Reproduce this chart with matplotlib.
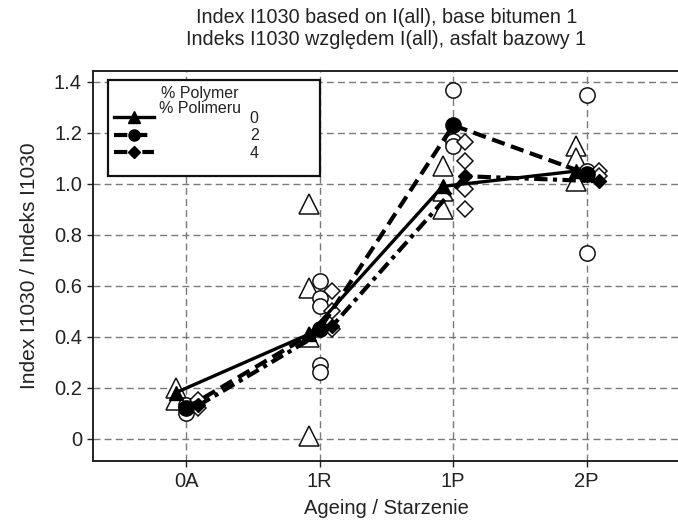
import matplotlib
matplotlib.use("Agg")
import matplotlib.pyplot as plt
from matplotlib.lines import Line2D
from matplotlib.patches import Rectangle

plt.rcParams['font.family'] = ['Liberation Sans', 'DejaVu Sans']

# ---------------- data ----------------
stages = ["0A", "1R", "1P", "2P"]
polymer_levels = ["0", "2", "4"]
legend_title = "% Polymer\n% Polimeru"

# mean values (lines with filled markers)
mean_p0 = [0.18, 0.41, 0.99, 1.05]
mean_p2 = [0.12, 0.43, 1.23, 1.04]
mean_p4 = [0.13, 0.44, 1.03, 1.01]

# individual measurements (hollow markers), one list per stage
ind_p0 = [[0.20, 0.15], [0.92, 0.59, 0.40, 0.01], [1.07, 0.97, 0.90], [1.15, 1.10, 1.01]]
ind_p2 = [[0.10, 0.13], [0.62, 0.55, 0.52, 0.29, 0.26], [1.37, 1.17, 1.15], [1.35, 1.05, 0.73]]
ind_p4 = [[0.12, 0.15], [0.58, 0.50, 0.43], [1.165, 1.09, 0.98, 0.90], [1.05, 1.03]]

# ---------------- figure ----------------
W, H = 678, 522
fig = plt.figure(figsize=(W / 100, H / 100), dpi=100)
ax = fig.add_axes([93 / W, 61 / H, 587 / W, 390 / H])

x = list(range(1, len(stages) + 1))
series = [
    dict(mean=mean_p0, ind=ind_p0, off=-0.08, marker='^', ms_f=10, ms_h=15,
         ls='-', lw=2.4),
    dict(mean=mean_p2, ind=ind_p2, off=0.0, marker='o', ms_f=11, ms_h=11,
         ls=(0, (3.2, 1.6)), lw=3.0),
    dict(mean=mean_p4, ind=ind_p4, off=0.09, marker='D', ms_f=7.5, ms_h=8.5,
         ls=(0, (3.2, 1.3, 1.0, 1.3)), lw=3.0),
]

for s in series:
    for xi, vals in zip(x, s['ind']):
        ax.plot([xi + s['off']] * len(vals), vals, linestyle='none',
                marker=s['marker'], ms=s['ms_h'], mfc='white', mec='#111111',
                mew=1.1, zorder=3)

for s in series:
    ax.plot([xi + s['off'] for xi in x], s['mean'], color='black',
            linestyle=s['ls'], lw=s['lw'], marker=s['marker'], ms=s['ms_f'],
            mfc='black', mec='black', zorder=4)

ax.set_xlim(0.3, 4.7)
ax.set_ylim(-0.088, 1.443)
ax.set_xticks(x)
ax.set_xticklabels(stages)
yt = [0, 0.2, 0.4, 0.6, 0.8, 1.0, 1.2, 1.4]
ax.set_yticks(yt)
ax.set_yticklabels(["0"] + [f"{v:.1f}" for v in yt[1:]])

ax.grid(True, color='#7a7a7a', linestyle=(0, (5, 3)), linewidth=1.0)
ax.set_axisbelow(True)
for side in ['left', 'bottom', 'top']:
    ax.spines[side].set_linewidth(1.4)
    ax.spines[side].set_color('#222222')
ax.spines['right'].set_visible(False)
ax.tick_params(axis='both', direction='out', length=4, width=1.0,
               labelsize=14.5, colors='#222222', pad=4)

ax.set_xlabel("Ageing / Starzenie", fontsize=14.5, color='#222222', labelpad=6)
ax.set_ylabel("Index I1030 / Indeks I1030", fontsize=15, color='#222222', labelpad=11)
ax.set_title("Index I1030 based on I(all), base bitumen 1\n"
             "Indeks I1030 względem I(all), asfalt bazowy 1",
             fontsize=14.2, color='#222222', pad=19, linespacing=1.15)

# ---------------- legend ----------------
handles = [
    Line2D([], [], color='black', lw=2.4, ls='-', marker='^', ms=8),
    Line2D([], [], color='black', lw=3.0, ls=(0, (3.2, 1.6)), marker='o', ms=8),
    Line2D([], [], color='black', lw=3.0, ls=(0, (3.2, 1.3, 1.0, 1.3)), marker='D', ms=6),
]
ax.add_patch(Rectangle(((108 - 93) / 587, (461 - 176) / 390),
                       (320 - 108) / 587, (176 - 80) / 390,
                       transform=ax.transAxes, fill=True, facecolor='white',
                       edgecolor='#111111', lw=1.6, zorder=5))
leg = ax.legend(handles, polymer_levels,
                loc='upper left', bbox_to_anchor=((114 - 93) / 587, (461 - 111) / 390),
                frameon=False, fontsize=11.5,
                handlelength=2.5, handletextpad=6.0, borderpad=0.0,
                labelspacing=0.15, borderaxespad=0.0)
leg.set_zorder(6)
for t in leg.get_texts():
    t.set_color('#222222')
ax.text((200 - 93) / 587, (461 - 101) / 390, legend_title, transform=ax.transAxes,
        ha='center', va='center', fontsize=11.5, color='#222222',
        linespacing=1.0, zorder=7)

fig.savefig("out.png", dpi=100)
